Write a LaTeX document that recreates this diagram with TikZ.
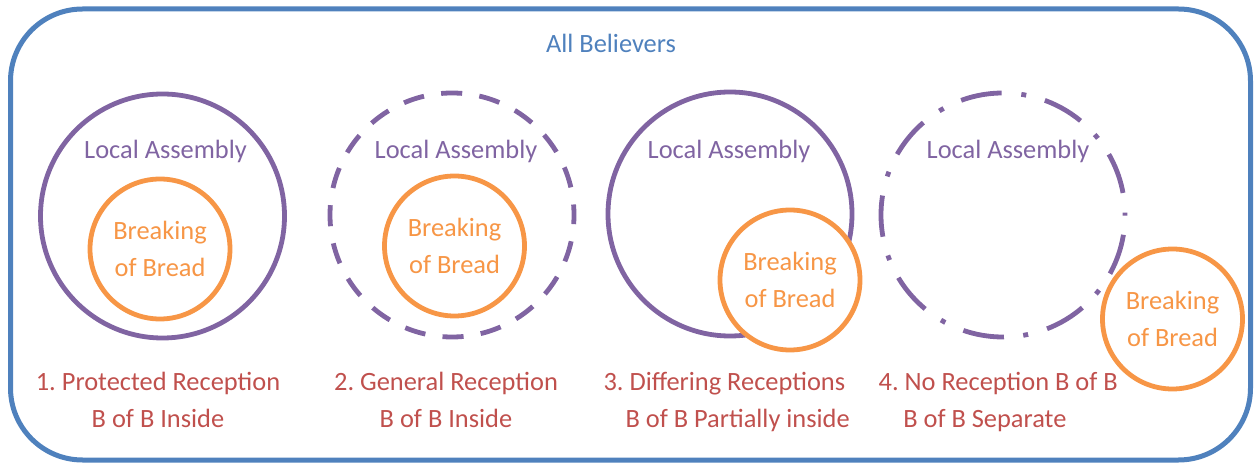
\documentclass[tikz,border=0pt]{standalone}
\usepackage{fontspec}
\setmainfont{Carlito}
\usepackage{tikz}
\usetikzlibrary{positioning}
\frenchspacing

\definecolor{believers}{HTML}{4F81BD}
\definecolor{assembly}{HTML}{8064A2}
\definecolor{bread}{HTML}{F79646}
\definecolor{reception}{HTML}{C0504D}

\newcommand{\figfont}{\fontsize{19.8}{27.75}\selectfont}

\tikzset{
  every node/.style={font=\figfont},
  assembly/.style={draw=assembly,circle,line width=3.6pt,inner sep=0pt,minimum size=183pt},
  bread/.style={draw=bread,fill=white,circle,line width=3.6pt,inner sep=0pt,minimum size=105pt,text=bread,align=center},
  alabel/.style={text=assembly,anchor=base},
  caption/.style={text=reception,align=center},
  longdash/.style={dash pattern=on 15.8pt off 13pt,dash phase=7.9pt},
  dashdot/.style={dash pattern=on 3.75pt off 14.8pt on 31pt off 14.5pt,dash phase=1.9pt}
}

\begin{document}
\begin{tikzpicture}[x=0.75pt,y=-0.75pt]
\useasboundingbox (0,0) rectangle (1254,463);

% all believers
\draw[believers,line width=3.75pt,rounded corners=54pt] (10.5,9) rectangle (1250.5,460);
\node[text=believers,anchor=base] (all) at (611,53) {All Believers};

% local assemblies
\node[assembly]          (A1) at (162.5,216) {};
\node[assembly,longdash] (A2) at (452,215)   {};
\node[assembly]          (A3) at (730,214)   {};
\node[assembly,dashdot]  (A4) at (1003,215)  {};

\node[alabel] (L1) at (165.5,159) {Local Assembly};
\node[alabel] (L2) at (456,159)   {Local Assembly};
\node[alabel] (L3) at (729,159)   {Local Assembly};
\node[alabel] (L4) at (1008,159)  {Local Assembly};

% breaking of bread
\node[bread] (B1) at (160,249)    {Breaking\\of Bread};
\node[bread] (B2) at (454.5,246)  {Breaking\\of Bread};
\node[bread] (B3) at (790,280)    {Breaking\\of Bread};
\node[bread] (B4) at (1172.5,319) {Breaking\\of Bread};

% receptions
\node[caption] (R1) at (158,399.5)  {1. Protected Reception\\B of B Inside};
\node[caption] (R2) at (446,399.5)  {2. General Reception\\B of B Inside};
\node[caption] (R3) at (731,402)    {3. Differing Receptions\hspace*{10pt}\\\hspace*{10pt}B of B Partially inside};
\node[caption] (R4) at (991.5,402)  {\hspace*{10pt}4. No Reception B of B\\B of B Separate\hspace*{10pt}};

\end{tikzpicture}
\end{document}
